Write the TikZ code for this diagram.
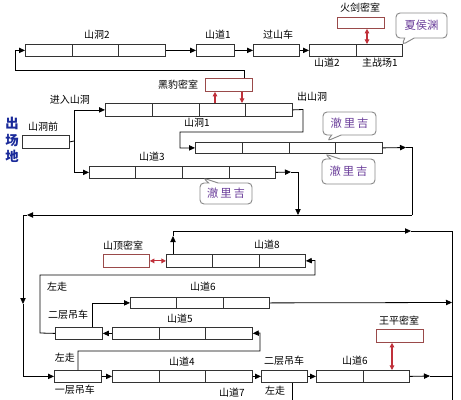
\documentclass[tikz,border=0pt]{standalone}
\usepackage{fontspec}
\setmainfont{Noto Sans CJK SC}
\newfontfamily\calloutfont{Noto Sans CJK SC}
\usetikzlibrary{calc,arrows.meta,shapes.callouts}
\definecolor{boxline}{HTML}{333333}
\definecolor{roomline}{HTML}{9A4A4A}
\definecolor{redarrow}{HTML}{C0303A}
\definecolor{callline}{HTML}{8A8A8A}
\definecolor{calltext}{HTML}{6A3D9A}
\definecolor{fieldblue}{HTML}{1A2A9A}
\tikzset{
  cellbox/.style={draw=boxline, line width=0.6pt, fill=white, rectangle, inner sep=0pt, anchor=north west},
  roombox/.style={draw=roomline, line width=0.6pt, fill=white, rectangle, inner sep=0pt, anchor=north west},
  lbl/.style={font=\fontsize{7.5}{8}\selectfont, inner sep=0pt, text=black},
  conn/.style={draw=black, line width=0.6pt},
  arr/.style={conn, -{Triangle[length=4.5pt,width=4pt]}},
  redarr/.style={draw=redarrow, line width=0.8pt, {Triangle[length=3.5pt,width=3.5pt]}-{Triangle[length=3.5pt,width=3.5pt]}},
  redone/.style={draw=redarrow, line width=0.8pt, -{Triangle[length=3.5pt,width=3.5pt]}},
  callbox/.style={rectangle callout, draw=callline, line width=0.7pt, rounded corners=3pt, fill=white,
    text=calltext, font=\calloutfont\fontsize{8.5}{9}\selectfont, inner sep=0pt},
}
% \cbox{name}{x}{y}{width}{height}{cells}
\newcommand{\cbox}[6]{%
  \node[cellbox, minimum width=#4*0.75pt, minimum height=#5*0.75pt] (#1) at (#2,#3) {};
  \ifnum#6>1
  \foreach \k in {1,...,\numexpr#6-1\relax}{
    \draw[boxline, line width=0.6pt] ($(#1.north west)!\k/#6!(#1.north east)$) -- ($(#1.south west)!\k/#6!(#1.south east)$);
  }\fi
}
\newcommand{\rbox}[5]{%
  \node[roombox, minimum width=#4*0.75pt, minimum height=#5*0.75pt] (#1) at (#2,#3) {};
}
\begin{document}
\begin{tikzpicture}[x=0.75pt,y=-0.75pt]
\useasboundingbox (0,0) rectangle (461,400);
\fill[white] (0,0) rectangle (461,400);

% ---------- top row ----------
\cbox{shd2}{25}{44}{140}{12}{3}
\cbox{sd1}{196}{44}{38}{12}{1}
\cbox{gsc}{253}{44}{46}{12}{1}
\cbox{zc}{309}{44}{93}{12}{2}
\rbox{hj}{337}{17}{47}{11}

\node[lbl] (l-shd2) at (97,35) {山洞2};
\node[lbl] (l-sd1) at (218,35) {山道1};
\node[lbl] (l-gsc) at (278,35) {过山车};
\node[lbl] (l-hj) at (360,8) {火剑密室};
\node[lbl] (l-sd2) at (327,63) {山道2};
\node[lbl] (l-zc) at (380,63) {主战场1};

\draw[arr] (shd2.east) -- (sd1.west);
\draw[arr] (sd1.east) -- (gsc.west);
\draw[arr] (gsc.east) -- (zc.west);
\coordinate (hjx) at (367,0);
\draw[redarr] (hjx |- hj.south) -- (hjx |- zc.north);

\node[callbox, minimum width=51*0.75pt, minimum height=25*0.75pt, callout absolute pointer={(402,45)}] (xhy) at (421.5,25.5) {夏侯渊};

% ---------- cave section ----------
\rbox{hb}{205}{78}{47}{13}
\node[lbl] (l-hb) at (178,85) {黑豹密室};
\cbox{shd1}{105}{103}{187}{13}{4}
\node[lbl] (l-shd1) at (197,123) {山洞1};
\node[lbl] (l-out) at (312,97) {出山洞};
\node[lbl] (l-in) at (70,100) {进入山洞};

\cbox{qian}{22}{135}{47}{13}{1}
\node[lbl] (l-qian) at (43,127) {山洞前};

\cbox{mid}{195}{142}{187}{11}{4}
\cbox{sd3}{89}{166}{186}{12}{4}
\node[lbl] (l-sd3) at (152,157) {山道3};

\node[text=fieldblue, font=\fontsize{10}{12.5}\selectfont\bfseries, align=center, inner sep=0pt] (field) at (12,140) {出\\场\\地};

% return loop to 山洞2
\coordinate (r1) at (244,70);
\coordinate (r2) at (15,70);
\draw[arr] (r1 |- hb.north) -- (r1) -- (r2) -- (r2 |- shd2.west) -- (shd2.west);

% red arrows to 黑豹密室
\coordinate (hbu) at (215,0);
\coordinate (hbd) at (242,0);
\draw[redone] (hbu |- shd1.north) -- (hbu |- hb.south);
\draw[redone] (hbd |- hb.south) -- (hbd |- shd1.north);

% split from 山洞前
\coordinate (sp) at (74,141);
\draw[conn] (qian.east) -- (sp);
\draw[arr] (sp) |- (shd1.west);
\draw[arr] (sp) |- (sd3.west);

% 山洞1 out loop
\coordinate (o1) at (303,109.5);
\coordinate (o2) at (303,132);
\coordinate (o3) at (180,132);
\draw[arr] (shd1.east) -- (o1) -- (o2) -- (o3) |- (mid.west);

% callouts 澈里吉
\node[callbox, minimum width=53*0.75pt, minimum height=23*0.75pt, callout absolute pointer={(327,141)}] (c1) at (349.5,123.5) {澈\,里\,吉};
\node[callbox, minimum width=53*0.75pt, minimum height=25*0.75pt, callout absolute pointer={(325,154)}] (c2) at (348.5,171.5) {澈\,里\,吉};
\node[callbox, minimum width=52*0.75pt, minimum height=21*0.75pt, callout absolute pointer={(203,178)}] (c3) at (226,193.5) {澈\,里\,吉};

% mid right -> down -> left loop
\coordinate (m1) at (406,147.5);
\coordinate (m2) at (412,147.5);
\coordinate (m3) at (412,215);
\coordinate (m4) at (27,215);
\coordinate (m5) at (23,215);
\coordinate (m6) at (23,304);
\draw[arr] (mid.east) -- (m1);
\draw[conn] (m1) -- (m2) -- (m3);
\draw[arr] (m3) -- (m4);
\draw[conn] (m4) -- (m5);
\draw[arr] (m5) -- (m6);

% 山道3 right
\coordinate (t1) at (291,172);
\coordinate (t2) at (298,172);
\coordinate (t3) at (298,215);
\draw[arr] (sd3.east) -- (t1);
\draw[arr] (t1) -- (t2) -- (t3);

% ---------- bottom section ----------
\rbox{hd}{103}{254}{46}{13}
\node[lbl] (l-hd) at (123,246) {山顶密室};
\cbox{sd8}{166}{254}{139}{13}{3}
\node[lbl] (l-sd8) at (267,245) {山道8};
\draw[redarr] (hd.east) -- (sd8.west);

\coordinate (u1) at (173,236);
\coordinate (u2) at (173,231);
\coordinate (u3) at (411,231);
\coordinate (u4) at (452,231);
\coordinate (u5) at (452,400);
\draw[arr] (u1 |- sd8.north) -- (u1);
\draw[arr] (u1) -- (u2) -- (u3);
\draw[conn] (u3) -- (u4) -- (u5);

\cbox{sd6u}{130}{297}{139}{11}{3}
\node[lbl] (l-sd6u) at (203,287) {山道6};
\coordinate (v1) at (452,302.5);
\draw[arr] (sd6u.east) -- (v1);

\cbox{ecl}{55}{327}{47}{12}{1}
\node[lbl] (l-ecl) at (68,315) {二层吊车};
\node[lbl] (l-zz1) at (57,287) {左走};
\cbox{sd5}{112}{327}{140}{12}{3}
\node[lbl] (l-sd5) at (180,319) {山道5};
\draw[arr] (sd5.west) -- (ecl.east);

% 左走 loop to 山道8
\coordinate (w1) at (40,333);
\coordinate (w2) at (40,275);
\coordinate (w3) at (315,275);
\coordinate (w4) at (315,260.5);
\draw[arr] (ecl.west) -- (w1) -- (w2) -- (w3) -- (w4) -- (sd8.east);

% 二层吊车 -> 山道6
\coordinate (e1) at (92,0);
\draw[arr] (e1 |- ecl.north) |- (sd6u.west);

% bottom row
\cbox{yc}{54}{370}{47}{12}{1}
\node[lbl] (l-yc) at (75,390) {一层吊车};
\node[lbl] (l-zz2) at (65,358) {左走};
\draw[arr] (m6) |- (yc.west);

\cbox{sd4}{112}{370}{140}{12}{3}
\node[lbl] (l-sd4) at (182,362) {山道4};
\cbox{ecr}{261}{370}{46}{12}{1}
\node[lbl] (l-ecr) at (284,361) {二层吊车};
\cbox{sd6l}{316}{370}{93}{12}{2}
\node[lbl] (l-sd6l) at (355,361) {山道6};
\rbox{wp}{376}{329}{47}{13}
\node[lbl] (l-wp) at (399,321) {王平密室};
\node[lbl] (l-zz3) at (275,391) {左走};
\node[lbl] (l-sd7) at (232,393) {山道7};

\draw[arr] (yc.east) -- (sd4.west);
\draw[arr] (sd4.east) -- (ecr.west);
\draw[arr] (ecr.east) -- (sd6l.west);

% 一层吊车 up loop to 山道5
\coordinate (y1) at (78,351);
\coordinate (y2) at (260,351);
\coordinate (y3) at (260,333);
\draw[arr] (y1 |- yc.north) -- (y1) -- (y2) -- (y3) -- (sd5.east);

% 山道6 lower right
\coordinate (z1) at (430,376);
\coordinate (z2) at (452,376);
\draw[arr] (sd6l.east) -- (z1);
\draw[conn] (z1) -- (z2);

\coordinate (wpx) at (392,0);
\draw[redarr] (wpx |- wp.south) -- (wpx |- sd6l.north);

% 二层吊车 down
\coordinate (d1) at (292,400);
\draw[conn] (d1 |- ecr.south) -- (d1);
\end{tikzpicture}
\end{document}
